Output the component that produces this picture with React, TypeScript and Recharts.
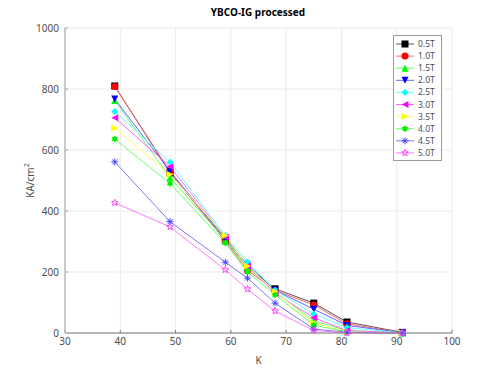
import { LineChart, Line, XAxis, YAxis, CartesianGrid, Legend } from 'recharts';

const temps = [39, 49, 59, 63, 68, 75, 81, 91];

const t05 = [810, 525, 305, 215, 145, 98, 36, 2];
const t10 = [808, 530, 300, 205, 140, 92, 30, 1];
const t15 = [762, 510, 305, 215, 135, 40, 8, 0];
const t20 = [767, 530, 310, 225, 140, 78, 25, 1];
const t25 = [726, 560, 320, 233, 140, 62, 18, 0];
const t30 = [706, 545, 315, 220, 130, 50, 8, 0];
const t35 = [672, 520, 320, 220, 135, 34, 3, 0];
const t40 = [636, 490, 295, 200, 125, 26, 3, 0];
const t45 = [561, 365, 232, 180, 98, 13, 2, 0];
const t50 = [427, 348, 207, 144, 72, 8, 1, 0];

const xTicks = [30, 40, 50, 60, 70, 80, 90, 100];
const yTicks = [0, 200, 400, 600, 800, 1000];

const SERIES = [
  { key: '0.5T', values: t05, color: '#000000', line: '#555555', shape: 'square' },
  { key: '1.0T', values: t10, color: '#ff0000', line: '#ff6666', shape: 'circle' },
  { key: '1.5T', values: t15, color: '#00ff00', line: '#66ff66', shape: 'up' },
  { key: '2.0T', values: t20, color: '#0000ff', line: '#6666ff', shape: 'down' },
  { key: '2.5T', values: t25, color: '#00ffff', line: '#66ffff', shape: 'diamond' },
  { key: '3.0T', values: t30, color: '#ff00ff', line: '#ff66ff', shape: 'left' },
  { key: '3.5T', values: t35, color: '#ffff00', line: '#ffff66', shape: 'right' },
  { key: '4.0T', values: t40, color: '#00ee00', line: '#66ff66', shape: 'hex' },
  { key: '4.5T', values: t45, color: '#4444ff', line: '#7777ff', shape: 'star' },
  { key: '5.0T', values: t50, color: '#ff44ff', line: '#ff77ff', shape: 'penta' },
];

const data = temps.map((t, i) => {
  const row: Record<string, number> = { t };
  SERIES.forEach((s) => {
    row[s.key] = s.values[i];
  });
  return row;
});

const TEXT = '#4d4d4d';

const starPoints = (cx: number, cy: number, n: number, ro: number, ri: number) => {
  const pts: string[] = [];
  for (let i = 0; i < n * 2; i++) {
    const r = i % 2 === 0 ? ro : ri;
    const a = -Math.PI / 2 + (i * Math.PI) / n;
    pts.push(`${cx + r * Math.cos(a)},${cy + r * Math.sin(a)}`);
  }
  return pts.join(' ');
};

const Marker = ({ cx, cy, shape, color }: { cx: number; cy: number; shape: string; color: string }) => {
  const s = 3.5;
  switch (shape) {
    case 'square':
      return <rect x={cx - s} y={cy - s} width={s * 2} height={s * 2} fill={color} />;
    case 'circle':
      return <circle cx={cx} cy={cy} r={s} fill={color} />;
    case 'up':
      return <polygon points={`${cx},${cy - s} ${cx + s},${cy + s} ${cx - s},${cy + s}`} fill={color} />;
    case 'down':
      return <polygon points={`${cx},${cy + s} ${cx + s},${cy - s} ${cx - s},${cy - s}`} fill={color} />;
    case 'diamond':
      return <polygon points={`${cx},${cy - s} ${cx + s},${cy} ${cx},${cy + s} ${cx - s},${cy}`} fill={color} />;
    case 'left':
      return <polygon points={`${cx - s},${cy} ${cx + s},${cy - s} ${cx + s},${cy + s}`} fill={color} />;
    case 'right':
      return <polygon points={`${cx + s},${cy} ${cx - s},${cy - s} ${cx - s},${cy + s}`} fill={color} />;
    case 'hex':
      return <polygon points={starPoints(cx, cy, 6, s, s * 0.65)} fill={color} />;
    case 'star':
      return (
        <g stroke={color} strokeWidth={1}>
          <line x1={cx - s} y1={cy} x2={cx + s} y2={cy} />
          <line x1={cx} y1={cy - s} x2={cx} y2={cy + s} />
          <line x1={cx - s * 0.7} y1={cy - s * 0.7} x2={cx + s * 0.7} y2={cy + s * 0.7} />
          <line x1={cx - s * 0.7} y1={cy + s * 0.7} x2={cx + s * 0.7} y2={cy - s * 0.7} />
        </g>
      );
    default:
      return <polygon points={starPoints(cx, cy, 5, s, s * 0.45)} fill="none" stroke={color} strokeWidth={1} />;
  }
};

const LegendBox = () => (
  <svg width={49} height={126} style={{ display: 'block' }}>
    <rect x={0.5} y={0.5} width={48} height={125} fill="#fff" stroke="#999" />
    {SERIES.map((s, i) => {
      const y = 9 + i * 12.1;
      return (
        <g key={s.key}>
          <line x1={3} y1={y} x2={21} y2={y} stroke={s.line} strokeWidth={1} />
          <Marker cx={12} cy={y} shape={s.shape} color={s.color} />
          <text x={25} y={y + 3} fontSize={8.5} fill={TEXT} fontFamily="Noto Sans">
            {s.key}
          </text>
        </g>
      );
    })}
  </svg>
);

const YLabel = ({ viewBox }: any) => {
  const cx = 30;
  const cy = viewBox.y + viewBox.height / 2;
  return (
    <text
      x={cx}
      y={cy}
      transform={`rotate(-90 ${cx} ${cy})`}
      textAnchor="middle"
      dominantBaseline="central"
      fontSize={10}
      fill={TEXT}
      fontFamily="Noto Sans"
    >
      KA/cm
      <tspan fontSize={7} dy={-4}>
        2
      </tspan>
    </text>
  );
};

export default function App() {
  return (
    <div style={{ position: 'absolute', left: 0, top: 0, width: 500, height: 375, background: '#fff' }}>
      <div
        style={{
          position: 'absolute',
          left: 0,
          width: 516,
          top: 5,
          textAlign: 'center',
          fontFamily: 'Noto Sans',
          fontWeight: 'bold',
          fontSize: 10,
          color: '#000',
        }}
      >
        YBCO-IG processed
      </div>
      <LineChart width={500} height={375} data={data} margin={{ top: 28, right: 48, bottom: 0, left: 0 }}>
        <CartesianGrid stroke="#ebebeb" strokeWidth={1} />
        <XAxis
          dataKey="t"
          type="number"
          domain={[30, 100]}
          ticks={xTicks}
          height={42}
          stroke="#777"
          tickSize={-3}
          tickMargin={8}
          tick={{ fontSize: 10, fill: TEXT, fontFamily: 'Noto Sans' }}
          label={{ value: 'K', position: 'insideBottom', offset: 11, fontSize: 10, fill: TEXT, fontFamily: 'Noto Sans' }}
        />
        <YAxis
          type="number"
          domain={[0, 1000]}
          ticks={yTicks}
          width={65}
          stroke="#bbb"
          strokeWidth={1.5}
          tickSize={-3}
          tickMargin={9}
          tick={{ fontSize: 10, fill: TEXT, fontFamily: 'Noto Sans' }}
          label={<YLabel />}
        />
        <Legend
          layout="vertical"
          align="center"
          verticalAlign="middle"
          wrapperStyle={{ left: 393, top: 35, width: 49 }}
          content={() => <LegendBox />}
        />
        {SERIES.map((s) => (
          <Line
            key={s.key}
            dataKey={s.key}
            stroke={s.line}
            strokeWidth={1}
            isAnimationActive={false}
            dot={(p: any) => <Marker key={`${s.key}-${p.index}`} cx={p.cx} cy={p.cy} shape={s.shape} color={s.color} />}
            activeDot={false}
          />
        ))}
      </LineChart>
    </div>
  );
}
